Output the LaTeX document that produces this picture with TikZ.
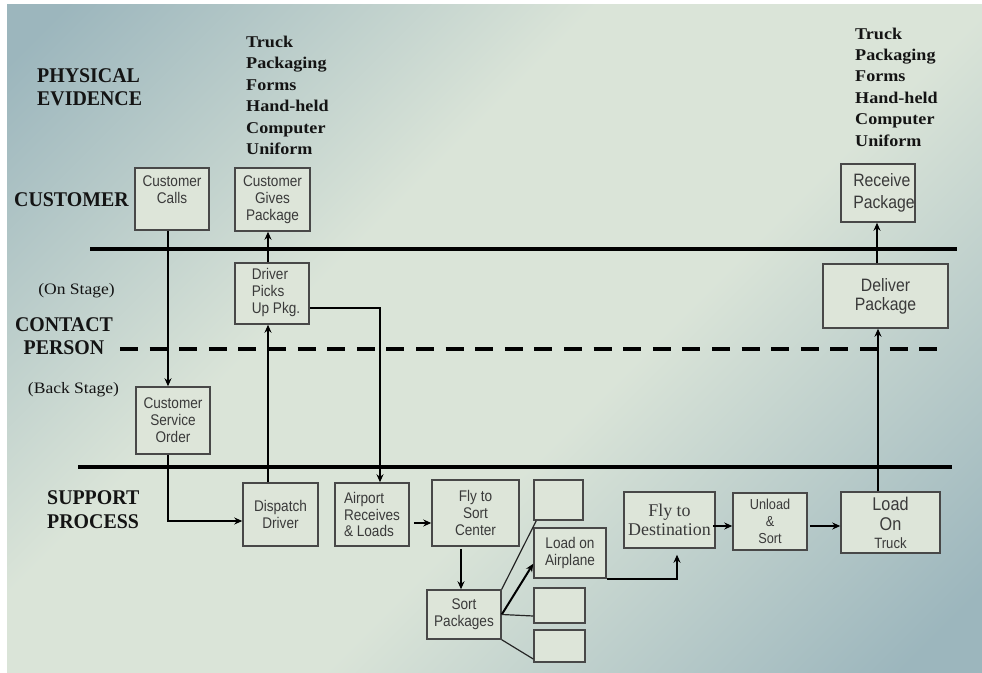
\documentclass[tikz,border=0pt]{standalone}
\usepackage{fontspec}
\setmainfont{Liberation Serif}
\newfontfamily\lanefont[FakeStretch=0.95]{Liberation Serif}
\newfontfamily\evfont[FakeStretch=1.1]{Liberation Serif}
\newfontfamily\boxfont[FakeStretch=0.88]{Liberation Sans}
\usetikzlibrary{arrows.meta}

\definecolor{bgblue}{RGB}{156,182,189}
\definecolor{bglight}{RGB}{218,228,216}
\definecolor{boxfill}{RGB}{221,229,217}
\definecolor{boxline}{RGB}{72,72,72}
\definecolor{boxtext}{RGB}{58,58,58}
\definecolor{ink}{RGB}{20,20,20}

% slide background: bluish corners, light band along the rising diagonal
\pgfdeclareverticalshading{slide}{100bp}{color(0bp)=(bgblue); color(18bp)=(bgblue); color(43bp)=(bglight); color(60bp)=(bglight); color(83bp)=(bgblue); color(100bp)=(bgblue)}

\tikzset{
  box/.style={draw=boxline, line width=1.5bp, fill=boxfill, inner sep=0pt,
    text=boxtext, font=\boxfont\fontsize{15.5}{17}\selectfont, align=center},
  flow/.style={draw=black, line width=2bp, -{Stealth[length=8bp,width=7bp]}},
  thinflow/.style={draw=black, line width=1.3bp, -{Stealth[length=8bp,width=7bp]}},
  link/.style={draw=black!85, line width=1.2bp},
  lane/.style={draw=black, line width=4.5bp},
  lanelabel/.style={font=\lanefont\bfseries\fontsize{21}{23.5}\selectfont, text=ink, inner sep=0pt},
  evidence/.style={font=\evfont\bfseries\fontsize{16.5}{21.5}\selectfont, text=ink, align=left, inner sep=0pt},
  stage/.style={font=\evfont\fontsize{16}{18}\selectfont, text=ink, inner sep=0pt},
}

\begin{document}
\begin{tikzpicture}[x=1bp, y=-1bp]
\useasboundingbox (0,0) rectangle (982,673);
\fill[white] (0,0) rectangle (982,673);
\shade[shading=slide, shading angle=45] (7,5) rectangle (982,673);

% lines of interaction, visibility and internal interaction
\coordinate (ia) at (90,249);  \coordinate (ib) at (957,249);
\coordinate (va) at (120,349); \coordinate (vb) at (948,349);
\coordinate (na) at (78,467);  \coordinate (nb) at (952,467);
\draw[lane] (ia) -- (ib);
\draw[lane, dash pattern=on 18bp off 11.6bp] (va) -- (vb);
\draw[lane] (na) -- (nb);

% lane labels
\node[lanelabel, align=left, anchor=west] (lpe) at (37,87.5) {PHYSICAL\\EVIDENCE};
\node[lanelabel, anchor=west] (lcu) at (14,200) {CUSTOMER};
\node[lanelabel, align=center] (lcp) at (64,336) {CONTACT\\PERSON};
\node[lanelabel, align=left, anchor=west] (lsp) at (47,509.5) {SUPPORT\\PROCESS};
\node[stage] (son) at (76.5,291) {(On Stage)};
\node[stage] (sbk) at (73.5,390) {(Back Stage)};

% physical evidence
\node[evidence, anchor=west] (pe1) at (246,95.5) {Truck\\Packaging\\Forms\\Hand-held\\Computer\\Uniform};
\node[evidence, anchor=west] (pe2) at (855,87) {Truck\\Packaging\\Forms\\Hand-held\\Computer\\Uniform};

% process steps
\node[box, minimum width=74bp, minimum height=62bp] (cc) at (172,199)
  {\raisebox{7.5bp}[\height][\depth]{\begin{tabular}{@{}c@{}}Customer\\Calls\end{tabular}}};
\node[box, minimum width=75bp, minimum height=63bp] (cgp) at (272.5,199.5) {Customer\\Gives\\Package};
\node[box, minimum width=74bp, minimum height=61bp, align=left] (dpu) at (272,293.5)
  {\hspace*{4bp}\begin{tabular}{@{}l@{}}Driver\\Picks\\Up Pkg.\end{tabular}\hspace*{-4bp}};
\node[box, minimum width=74bp, minimum height=67bp] (cso) at (173,420.5) {Customer\\Service\\Order};
\node[box, minimum width=75bp, minimum height=63bp] (dd) at (280.5,514.5) {Dispatch\\Driver};
\node[box, minimum width=74bp, minimum height=63bp, align=left] (arl) at (372,514.5) {Airport\\Receives\\\& Loads};
\node[box, minimum width=87bp, minimum height=66bp] (fsc) at (475.5,513) {Fly to\\Sort\\Center};
\node[box, minimum width=49bp, minimum height=40bp] (e1) at (558.5,500) {};
\node[box, minimum width=72bp, minimum height=50bp] (loa) at (570,553) {Load on\\Airplane};
\node[box, minimum width=51bp, minimum height=35bp] (e2) at (559.5,605.5) {};
\node[box, minimum width=51bp, minimum height=32bp] (e3) at (559.5,646) {};
\node[box, minimum width=74bp, minimum height=49bp] (sp) at (464,614.5) {Sort\\Packages};
\node[box, minimum width=91bp, minimum height=56bp, font=\rmfamily\fontsize{18}{19}\selectfont] (ftd) at (669.5,520) {Fly to\\Destination};
\node[box, minimum width=74bp, minimum height=57bp, font=\boxfont\fontsize{14.5}{17}\selectfont] (us) at (770,521.5) {Unload\\\&\\Sort};
\node[box, minimum width=99bp, minimum height=61bp, font=\boxfont\fontsize{18.5}{20}\selectfont] (lot) at (890.5,522.5)
  {Load\\On\\[-2bp]{\fontsize{15}{17}\selectfont Truck}};
\node[box, minimum width=125bp, minimum height=64bp, font=\boxfont\fontsize{18}{19}\selectfont] (dp) at (885.5,296) {Deliver\\Package};
\node[box, minimum width=74bp, minimum height=58bp, font=\boxfont\fontsize{18}{22}\selectfont] (rp) at (878,193)
  {\hspace*{6bp}\begin{tabular}{@{}l@{}}Receive\\Package\end{tabular}\hspace*{-6bp}};

% flows
\coordinate (c1) at ([xshift=-4bp]cc.south);
\draw[flow] (c1) -- (c1 |- cso.north);
\coordinate (c2) at (c1 |- cso.south);
\coordinate (c2e) at ([yshift=-6.5bp]dd.west);
\draw[thinflow] (c2) |- (c2e);
\coordinate (c3) at ([xshift=-12.5bp]dd.north);
\draw[flow] (c3) -- (c3 |- dpu.south);
\coordinate (c4) at ([xshift=-4bp]dpu.north);
\draw[flow] (c4) -- (c4 |- cgp.south);
\coordinate (c5) at ([yshift=-14.5bp]dpu.east);
\coordinate (c5e) at ([xshift=8bp]arl.north);
\draw[thinflow] (c5) -| (c5e);
\coordinate (c6) at ([xshift=4bp,yshift=-8.5bp]arl.east);
\draw[flow] (c6) -- (c6 -| fsc.west);
\coordinate (c7) at ([xshift=-14.5bp,yshift=-2bp]fsc.south);
\draw[flow] (c7) -- (c7 |- sp.north);
\draw[link] (sp.north east) -- ([xshift=3bp]e1.south west);
\draw[flow] (sp.east) -- ([yshift=15bp]loa.south west);
\draw[link] (sp.east) -- ([yshift=-10.5bp]e2.west);
\draw[link] (sp.south east) -- ([yshift=-13bp]e3.west);
\coordinate (c9) at ([xshift=7.5bp]ftd.south);
\draw[flow, line width=1.7bp, shorten >=6bp] (loa.south east) -| (c9);
\coordinate (c10) at ([xshift=-3bp,yshift=-6bp]ftd.east);
\draw[flow] (c10) -- (c10 -| us.west);
\coordinate (c11) at ([xshift=2bp,yshift=-4.5bp]us.east);
\draw[flow] (c11) -- (c11 -| lot.west);
\coordinate (c12) at ([xshift=-12.5bp]lot.north);
\draw[flow] (c12) -- (c12 |- dp.south);
\coordinate (c13) at ([xshift=-8.5bp]dp.north);
\draw[flow] (c13) -- (c13 |- rp.south);
\end{tikzpicture}
\end{document}
